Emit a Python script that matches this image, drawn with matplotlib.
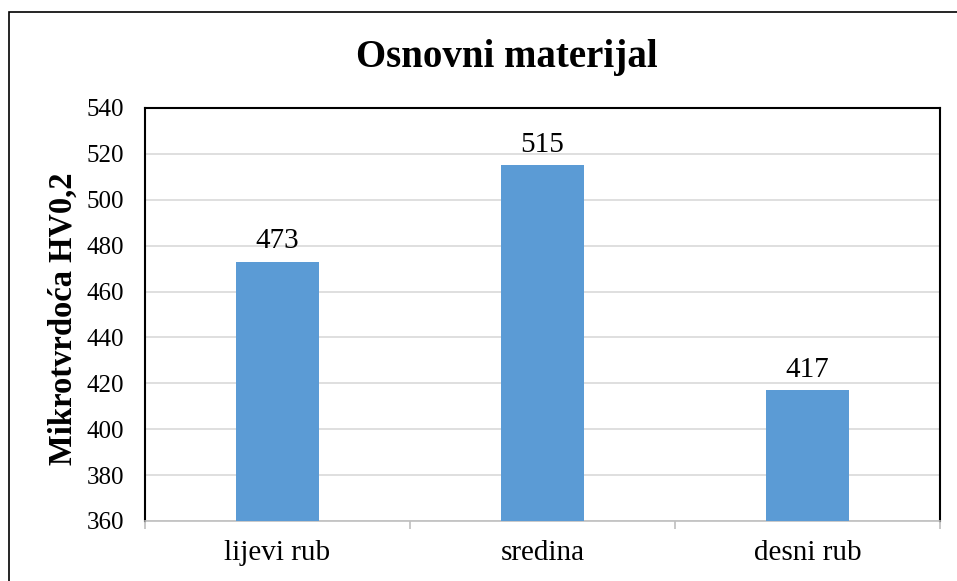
import matplotlib.pyplot as plt
from matplotlib.patches import Rectangle

categories = ["lijevi rub", "sredina", "desni rub"]
values = [473, 515, 417]
yticks = [360, 380, 400, 420, 440, 460, 480, 500, 520, 540]

plt.rcParams["font.family"] = ["Liberation Serif", "DejaVu Serif"]

W, H = 957, 581
fig = plt.figure(figsize=(W / 100, H / 100), dpi=100)

# outer chart border (cut off at right/bottom like the reference)
fig.patches.append(Rectangle((9 / W, -0.1), 1.2, 1 - 12 / H + 0.1, transform=fig.transFigure,
                             fill=False, edgecolor="black", linewidth=1.2))

ax = fig.add_axes([145 / W, (H - 521) / H, 795 / W, 413 / H])
x = range(len(categories))
ax.bar(x, values, width=0.313, color="#5B9BD5", zorder=3)

for xi, v in zip(x, values):
    ax.text(xi, v + 3.2, str(v), ha="center", va="bottom", fontsize=21)

ax.set_ylim(360, 540)
ax.set_xlim(-0.5, 2.5)
ax.set_yticks(yticks)
ax.yaxis.grid(True, color="#D9D9D9", linewidth=1.2, zorder=0)
ax.tick_params(axis="y", length=0, pad=15, labelsize=18)

ax.set_xticks(list(x))
ax.set_xticklabels(categories)
ax.set_xticks([-0.5, 0.5, 1.5, 2.5], minor=True)
ax.tick_params(axis="x", which="major", length=0, pad=14, labelsize=21)
ax.tick_params(axis="x", which="minor", length=6, width=1.2, color="#BFBFBF")

for s in ["top", "left", "right"]:
    ax.spines[s].set_color("black")
    ax.spines[s].set_linewidth(1.5)
ax.spines["bottom"].set_color("#BFBFBF")
ax.spines["bottom"].set_linewidth(1.2)

fig.text(63 / W, 1 - 319 / H, "Mikrotvrdoća HV0,2", rotation=90, ha="center", va="center",
         fontsize=23.5, fontweight="bold")

fig.text(507 / W, 1 - 58 / H, "Osnovni materijal", ha="center", va="center",
         fontsize=28, fontweight="bold")

fig.savefig("out.png", dpi=100)
